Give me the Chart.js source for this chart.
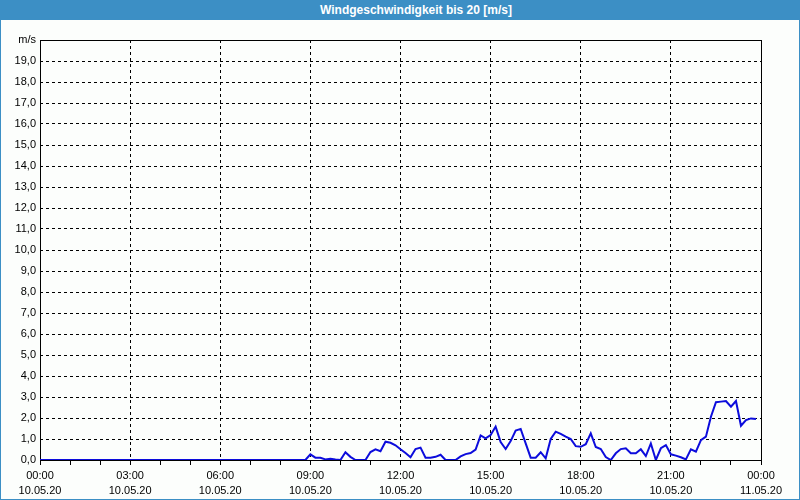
<!DOCTYPE html>
<html>
<head>
<meta charset="utf-8">
<script src="https://cdn.jsdelivr.net/npm/chart.js@4"></script>
<style>
  html, body { margin: 0; padding: 0; background: #fcfefc; }
  #frame {
    position: relative; width: 800px; height: 500px; box-sizing: border-box;
    border: 1px solid #3c8fc5; border-top: none; overflow: hidden;
  }
  #titleBar {
    position: absolute; left: 0; top: 0; width: 800px; height: 20px;
    background: #3c8fc5; color: #fff; font: bold 12px "Liberation Sans", Arial, sans-serif;
    line-height: 20px; text-align: center; padding-left: 30px; box-sizing: border-box;
  }
  #chartBox { position: absolute; left: -1px; top: 0; width: 800px; height: 500px; }
</style>
</head>
<body>
<div id="frame">
  <div id="chartBox"><canvas id="windChart" width="800" height="500"></canvas></div>
  <div id="titleBar">Windgeschwindigkeit bis 20 [m/s]</div>
</div>
<script>
// Wind speed [m/s], one value every 10 minutes from 10.05.20 00:00 to 23:50
const stepMinutes = 10;
const windSpeed = [
  // 00:00 - 08:50
  0, 0, 0, 0, 0, 0, 0, 0, 0, 0, 0, 0, 0, 0, 0, 0, 0, 0,
  0, 0, 0, 0, 0, 0, 0, 0, 0, 0, 0, 0, 0, 0, 0, 0, 0, 0,
  0, 0, 0, 0, 0, 0, 0, 0, 0, 0, 0, 0, 0, 0, 0, 0, 0, 0,
  // 09:00 - 11:50
  0.27, 0.11, 0.11, 0.03, 0.06, 0.02, 0, 0.37, 0.15, 0, 0, 0,
  0.38, 0.51, 0.42, 0.87, 0.82, 0.70,
  // 12:00 - 14:50
  0.51, 0.33, 0.13, 0.52, 0.59, 0.11, 0.11, 0.15, 0.25, 0, 0, 0,
  0.17, 0.28, 0.33, 0.50, 1.17, 1.03,
  // 15:00 - 17:50
  1.19, 1.59, 0.85, 0.52, 0.90, 1.40, 1.48, 0.79, 0.11, 0.11, 0.37, 0.08,
  1.00, 1.35, 1.24, 1.11, 1.00, 0.66,
  // 18:00 - 20:50
  0.63, 0.75, 1.27, 0.62, 0.52, 0.14, 0, 0.32, 0.52, 0.56, 0.32, 0.32,
  0.51, 0.19, 0.79, 0, 0.56, 0.71,
  // 21:00 - 23:50
  0.27, 0.21, 0.13, 0.03, 0.51, 0.40, 0.95, 1.11, 2.06, 2.75, 2.78, 2.81,
  2.54, 2.81, 1.63, 1.90, 1.98, 1.95
];

const xTickTimes = ['00:00', '03:00', '06:00', '09:00', '12:00', '15:00', '18:00', '21:00', '00:00'];
const xTickDates = ['10.05.20', '10.05.20', '10.05.20', '10.05.20', '10.05.20', '10.05.20', '10.05.20', '10.05.20', '11.05.20'];
const yMax = 20;
const yUnit = 'm/s';

const points = windSpeed.map((v, i) => ({ x: i * stepMinutes, y: v }));

// solid box round the plot area
const plotFrame = {
  id: 'plotFrame',
  beforeDatasetsDraw(chart) {
    const { ctx, chartArea: a } = chart;
    ctx.save();
    ctx.strokeStyle = '#000';
    ctx.lineWidth = 1;
    ctx.setLineDash([]);
    ctx.strokeRect(Math.round(a.left) + 0.5, Math.round(a.top) + 0.5,
      Math.round(a.right - a.left), Math.round(a.bottom - a.top));
    ctx.restore();
  }
};

const font = { family: '"Liberation Sans", Arial, sans-serif', size: 11 };

new Chart(document.getElementById('windChart'), {
  type: 'line',
  data: {
    datasets: [{
      data: points,
      borderColor: '#0c0cdc',
      borderWidth: 2,
      pointRadius: 0,
      tension: 0,
      fill: false
    }]
  },
  options: {
    responsive: false,
    animation: false,
    layout: { padding: { left: 0, top: 40, right: 39, bottom: 0 } },
    plugins: { legend: { display: false }, tooltip: { enabled: false } },
    scales: {
      x: {
        type: 'linear',
        min: 0,
        max: 1440,
        afterFit: s => { s.height = 40; },
        afterBuildTicks: s => {
          s.ticks = [];
          for (let m = 0; m <= 1440; m += 60) s.ticks.push({ value: m });
        },
        ticks: {
          autoSkip: false,
          maxRotation: 0,
          padding: 3,
          color: '#000',
          font: { ...font, lineHeight: 1.4 },
          callback: v => v % 180 === 0 ? [xTickTimes[v / 180], xTickDates[v / 180]] : ''
        },
        grid: {
          color: c => (c.tick && c.tick.value % 180 === 0 && c.tick.value > 0 && c.tick.value < 1440) ? '#000' : 'rgba(0,0,0,0)',
          tickColor: '#000',
          tickLength: 5,
          lineWidth: 1
        },
        border: { display: false, dash: [3, 3] }
      },
      y: {
        min: 0,
        max: yMax,
        afterFit: s => { s.width = 40; },
        ticks: {
          stepSize: 1,
          padding: 4,
          color: '#000',
          font,
          callback: v => v === yMax ? yUnit : v.toFixed(1).replace('.', ',')
        },
        grid: {
          drawTicks: false,
          color: c => (c.tick && c.tick.value > 0 && c.tick.value < yMax) ? '#000' : 'rgba(0,0,0,0)',
          lineWidth: 1
        },
        border: { display: false, dash: [3, 3] }
      }
    }
  },
  plugins: [plotFrame]
});
</script>
</body>
</html>
